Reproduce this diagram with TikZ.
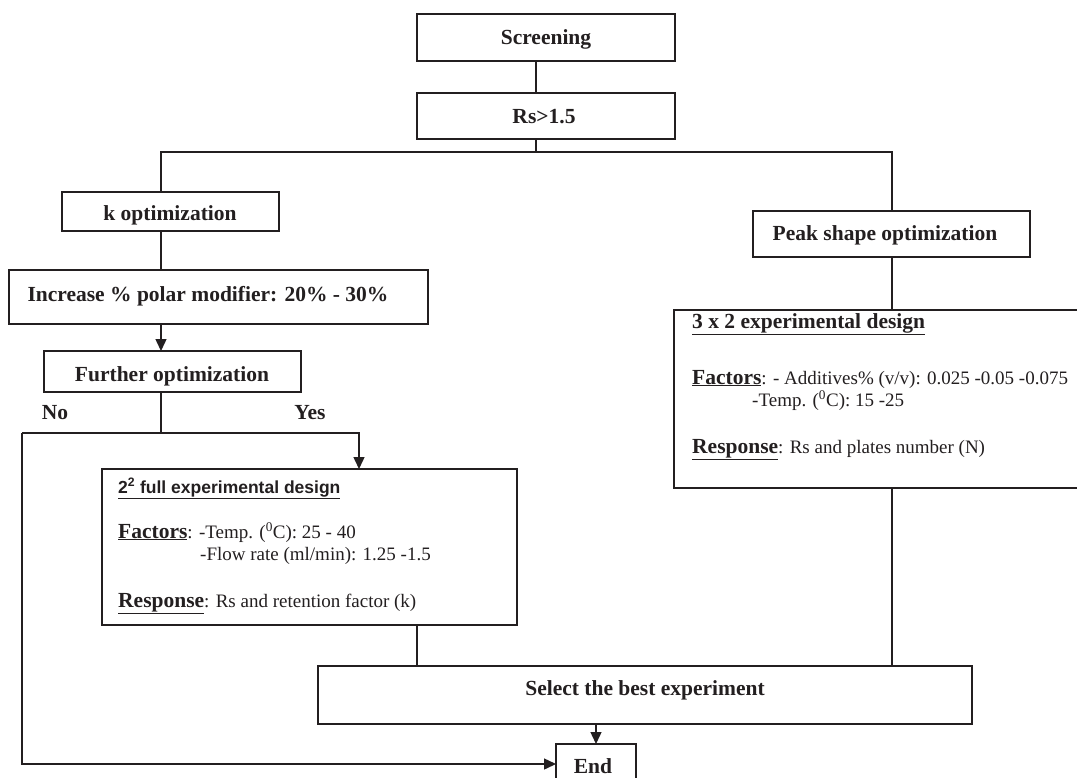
\documentclass[tikz,border=0pt]{standalone}
\usepackage{fontspec}
\setmainfont{Liberation Serif}
\newfontfamily\headsans{Liberation Sans}
\usetikzlibrary{arrows.meta}
\definecolor{ink}{HTML}{231F20}
% bold underlined lead word inside the design boxes
\newcommand\lead[1]{{\fontsize{21.5}{24}\selectfont\bfseries\underline{#1}}}
\begin{document}
\begin{tikzpicture}[x=1pt,y=-1pt,
  box/.style={draw=ink, line width=1.8pt, rectangle, inner sep=0pt, outer sep=0pt},
  wire/.style={draw=ink, line width=1.4pt},
  arr/.style={wire, -{Triangle[length=12pt,width=11pt]}},
  title/.style={inner sep=0pt, anchor=base, text=ink, font=\fontsize{21.5}{24}\selectfont\bfseries},
  body/.style={inner sep=0pt, anchor=base west, text=ink, font=\fontsize{19}{22}\selectfont},
]
\useasboundingbox (0,0) rectangle (1077,777);
\fill[white] (0,0) rectangle (1077,777);
\clip (0,0) rectangle (1077,777);

% ---- boxes ----
\node[box, minimum width=258pt, minimum height=47pt]  (scr)   at (546,37.5) {};
\node[box, minimum width=258pt, minimum height=46pt]  (rs)    at (546,116) {};
\node[box, minimum width=217pt, minimum height=39pt]  (kopt)  at (170.5,211.5) {};
\node[box, minimum width=419pt, minimum height=54pt]  (incr)  at (218.5,297) {};
\node[box, minimum width=257pt, minimum height=41pt]  (furt)  at (172.5,371.5) {};
\node[box, minimum width=415pt, minimum height=156pt] (full)  at (309.5,547) {};
\node[box, minimum width=277pt, minimum height=46pt]  (peak)  at (891.5,234) {};
\node[box, minimum width=416pt, minimum height=178pt] (three) at (882,399) {};
\node[box, minimum width=654pt, minimum height=58pt]  (sel)   at (645,695) {};
\node[box, minimum width=80pt,  minimum height=40pt]  (endb)  at (596,764) {};

% ---- box titles ----
\node[title] (scrT)  at (546,44)    {Screening};
\node[title] (rsT)   at (544,123)   {Rs>1.5};
\node[title] (koptT) at (170,220)   {k optimization};
\node[title] (incrT) at (208,301)   {Increase \% polar modifier: 20\% - 30\%};
\node[title] (furtT) at (172,381.5) {Further optimization};
\node[title] (peakT) at (885,240)   {Peak shape optimization};
\node[title] (selT)  at (645,695)   {Select the best experiment};
\node[title] (endT)  at (593,773)   {End};
\node[title] (noT)   at (55,419)    {No};
\node[title] (yesT)  at (310,419)   {Yes};

% ---- 2^2 design contents ----
\node[body, font=\headsans\fontsize{17.5}{20}\selectfont\bfseries] (fullH) at (118,493)
  {\underline{2\textsuperscript{2} full experimental design}};
\node[body] (fullF) at (118,538) {\lead{Factors}: -Temp. (\textsuperscript{0}C): 25 - 40};
\node[body] (fullG) at (200,560) {-Flow rate (ml/min): 1.25 -1.5};
\node[body] (fullR) at (118,607) {\lead{Response}: Rs and retention factor (k)};

% ---- 3 x 2 design contents ----
\node[body, font=\fontsize{21.5}{24}\selectfont\bfseries] (threeH) at (692,328)
  {\underline{3 x 2 experimental design}};
\node[body] (threeF) at (692,384) {\lead{Factors}: - Additives\% (v/v): 0.025 -0.05 -0.075};
\node[body] (threeG) at (752,406) {-Temp. (\textsuperscript{0}C): 15 -25};
\node[body] (threeR) at (692,453) {\lead{Response}: Rs and plates number (N)};

% ---- routing points ----
\coordinate (spine) at (536,0);
\coordinate (kx)    at (161,152);
\coordinate (px)    at (892,152);
\coordinate (fork)  at (161,433);
\coordinate (nox)   at (22,433);
\coordinate (yesx)  at (359,433);
\coordinate (fx)    at (417,0);

% ---- connectors ----
\draw[wire] (scr.south -| spine) -- (rs.north -| spine);
\draw[wire] (rs.south -| spine) -- (spine |- kx);
\draw[wire] (kopt.north -| kx) -- (kx) -- (px) -- (peak.north -| px);
\draw[wire] (kopt.south -| kx) -- (incr.north -| kx);
\draw[arr]  (incr.south -| kx) -- (furt.north -| kx);
\draw[wire] (furt.south -| kx) -- (fork);
\draw[arr]  (nox) -- (yesx) -- (full.north -| yesx);
\draw[arr]  (nox) |- (endb.west);
\draw[wire] (peak.south -| px) -- (three.north -| px);
\draw[wire] (three.south -| px) -- (sel.north -| px);
\draw[wire] (full.south -| fx) -- (sel.north -| fx);
\draw[arr]  (sel.south -| endb.north) -- (endb.north);
\end{tikzpicture}
\end{document}
